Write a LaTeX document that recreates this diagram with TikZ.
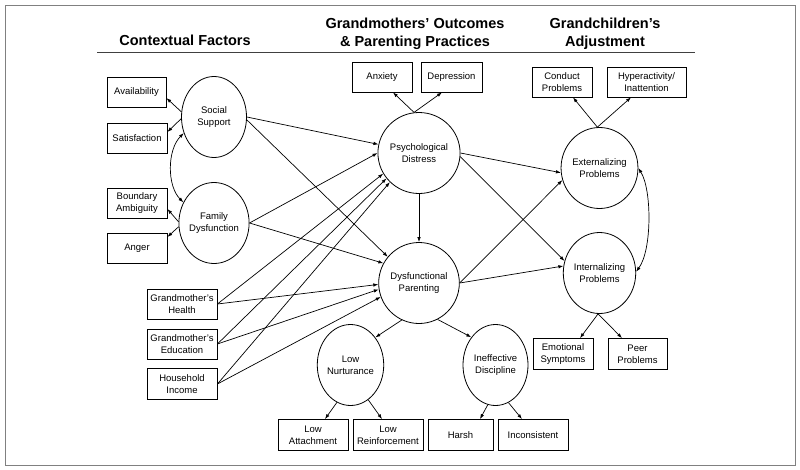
\documentclass[tikz,border=0pt]{standalone}
\usepackage{fontspec}
\setmainfont{Liberation Sans}
\usetikzlibrary{shapes.geometric,arrows.meta}
\begin{document}
\begin{tikzpicture}[x=1pt,y=-1pt,
  every node/.style={inner sep=0pt},
  box/.style={draw, line width=0.8pt, minimum width=60pt, minimum height=30pt, align=center, font=\fontsize{9.5}{11.7}\selectfont},
  lat/.style={draw, ellipse, line width=0.8pt, minimum width=65pt, minimum height=81pt, align=center, font=\fontsize{9.5}{11.7}\selectfont},
  hdr/.style={align=center, font=\bfseries\fontsize{14.5}{18}\selectfont},
  arr/.style={-{Latex[length=5pt,width=3.5pt]}, line width=0.7pt},
  darr/.style={{Latex[length=5pt,width=3.5pt]}-{Latex[length=5pt,width=3.5pt]}, line width=0.7pt}
]
\useasboundingbox (0,0) rectangle (800,469);
\draw[gray, line width=0.9pt] (5,5) rectangle (795,465);

% headers
\node[hdr] (h1) at (185,40) {Contextual Factors};
\node[hdr] (h2) at (415,34) {Grandmothers’ Outcomes\\\& Parenting Practices};
\node[hdr] (h3) at (605,34) {Grandchildren’s\\Adjustment};
\coordinate (rl) at (97,52);
\coordinate (rr) at (695,52);
\draw[line width=0.8pt, black!75] (rl) -- (rr);

% left boxes
\node[box, minimum width=59pt] (avail) at (136.5,92) {Availability};
\node[box] (satis) at (137,138) {Satisfaction};
\node[box] (bound) at (137,203) {Boundary\\Ambiguity};
\node[box] (anger) at (137,248) {Anger};
\node[lat] (ss) at (214,117) {Social\\Support};
\node[lat] (fd) at (214,223) {Family\\Dysfunction};
\node[box, minimum width=70pt] (gh) at (182,304) {Grandmother’s\\Health};
\node[box, minimum width=70pt] (ge) at (182,344) {Grandmother’s\\Education};
\node[box, minimum width=70pt, minimum height=31pt] (hi) at (182,384) {Household\\Income};

% middle
\node[box] (anx) at (382,77) {Anxiety};
\node[box, minimum width=61pt] (dep) at (451.5,77) {Depression};
\node[lat] (pd) at (419,153) {Psychological\\Distress};
\node[lat] (dp) at (419,283) {Dysfunctional\\Parenting};
\node[lat] (ln) at (350.5,365) {Low\\Nurturance};
\node[lat] (id) at (495.5,365) {Ineffective\\Discipline};
\node[box, minimum width=70pt, minimum height=31pt] (latt) at (313,435) {Low\\Attachment};
\node[box, minimum width=70pt, minimum height=31pt] (lrein) at (388,435) {Low\\Reinforcement};
\node[box, minimum width=65pt, minimum height=31pt] (harsh) at (460.5,435) {Harsh};
\node[box, minimum width=70pt, minimum height=31pt] (incons) at (533,435) {Inconsistent};

% right
\node[box] (con) at (562,82) {Conduct\\Problems};
\node[box, minimum width=79pt] (hyp) at (646.5,82) {Hyperactivity/\\Inattention};
\node[lat] (ext) at (599.5,168) {Externalizing\\Problems};
\node[lat] (int) at (599.5,273) {Internalizing\\Problems};
\node[box, minimum height=31pt] (emo) at (563,354) {Emotional\\Symptoms};
\node[box, minimum width=59pt, minimum height=31pt] (peer) at (637.5,354) {Peer\\Problems};

% indicator arrows
\draw[arr] (ss.171) -- ([yshift=-6pt]avail.east);
\draw[arr] (ss.183) -- ([yshift=6pt]satis.east);
\draw[arr] (fd.178) -- ([yshift=-6pt]bound.east);
\draw[arr] (fd.186) -- ([yshift=11pt]anger.east);
\draw[arr] (pd.97) -- ([xshift=11pt]anx.south);
\draw[arr] (pd.97) -- ([xshift=-9.5pt]dep.south);
\draw[arr] (ext.93) -- ([xshift=11pt]con.south);
\draw[arr] (ext.93) -- ([xshift=-15.5pt]hyp.south);
\draw[arr] (int.-92) -- ([xshift=17pt]emo.north);
\draw[arr] (int.-92) -- ([xshift=-15.5pt]peer.north);
\draw[arr] (ln.250) -- ([xshift=12pt]latt.north);
\draw[arr] (ln.297) -- ([xshift=-6pt]lrein.north);
\draw[arr] (id.259) -- ([xshift=19.5pt]harsh.north);
\draw[arr] (id.289) -- ([xshift=-11pt]incons.north);

% structural paths
\draw[arr] (ss.east) -- (pd.168);
\draw[arr] (ss.355) -- (dp.140);
\draw[arr] (fd.east) -- (pd.180);
\draw[arr] (fd.east) -- (dp.151);
\draw[arr] (gh.east) -- (pd.210);
\draw[arr] (gh.east) -- (dp.182);
\draw[arr] (ge.east) -- (pd.218);
\draw[arr] (ge.east) -- (dp.189);
\draw[arr] (hi.east) -- (pd.225);
\draw[arr] (hi.east) -- (dp.200);
\draw[arr] (pd.south) -- (dp.north);
\draw[arr] (pd.east) -- (ext.187);
\draw[arr] (pd.355) -- (int.161);
\draw[arr] (dp.east) -- (ext.198);
\draw[arr] (dp.east) -- (int.169);
\draw[arr] (dp.245) -- (ln.48);
\draw[arr] (dp.297) -- (id.131);

% correlations
\draw[darr] (ss.208) .. controls (167,150) and (167,186) .. (fd.146);
\draw[darr] (ext.east) .. controls (652,190) and (652,250) .. (int.2);
\end{tikzpicture}
\end{document}
